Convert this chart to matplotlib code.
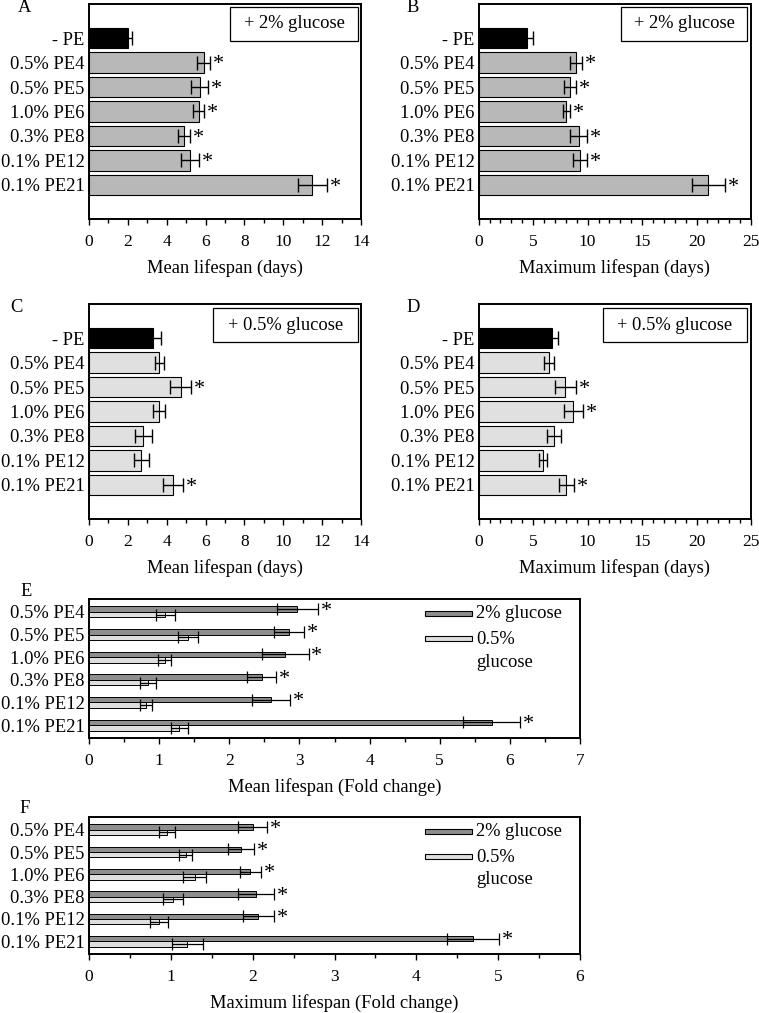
import numpy as np
import matplotlib.pyplot as plt
from matplotlib.patches import Rectangle
from matplotlib.ticker import MultipleLocator

plt.rcParams["font.family"] = ["Liberation Serif", "DejaVu Serif"]

labels = ["- PE", "0.5% PE4", "0.5% PE5", "1.0% PE6", "0.3% PE8", "0.1% PE12", "0.1% PE21"]
fold_labels = labels[1:]

# A: mean lifespan (days), 2% glucose
mean_hi = [2.0, 5.9, 5.7, 5.64, 4.9, 5.2, 11.5]
mean_hi_err = [0.22, 0.34, 0.45, 0.29, 0.30, 0.45, 0.76]
mean_hi_sig = [0, 1, 1, 1, 1, 1, 1]

# B: maximum lifespan (days), 2% glucose
max_hi = [4.46, 8.96, 8.38, 8.04, 9.17, 9.27, 21.07]
max_hi_err = [0.52, 0.55, 0.57, 0.32, 0.75, 0.64, 1.53]
max_hi_sig = [0, 1, 1, 1, 1, 1, 1]

# C: mean lifespan (days), 0.5% glucose
mean_lo = [3.30, 3.61, 4.71, 3.61, 2.80, 2.70, 4.31]
mean_lo_err = [0.39, 0.23, 0.56, 0.30, 0.45, 0.39, 0.52]
mean_lo_sig = [0, 0, 1, 0, 0, 0, 1]

# D: maximum lifespan (days), 0.5% glucose
max_lo = [6.73, 6.48, 7.95, 8.69, 6.94, 5.87, 8.04]
max_lo_err = [0.58, 0.44, 0.95, 0.87, 0.66, 0.37, 0.70]
max_lo_sig = [0, 0, 1, 1, 0, 0, 1]

# E: mean lifespan fold change
fold_mean_hi = [2.97, 2.85, 2.80, 2.46, 2.60, 5.74]
fold_mean_hi_err = [0.29, 0.21, 0.33, 0.21, 0.27, 0.41]
fold_mean_lo = [1.09, 1.41, 1.08, 0.84, 0.81, 1.29]
fold_mean_lo_err = [0.13, 0.14, 0.09, 0.11, 0.09, 0.12]

# F: maximum lifespan fold change
fold_max_hi = [2.00, 1.86, 1.97, 2.04, 2.07, 4.69]
fold_max_hi_err = [0.18, 0.16, 0.13, 0.22, 0.19, 0.32]
fold_max_lo = [0.95, 1.18, 1.29, 1.03, 0.86, 1.20]
fold_max_lo_err = [0.10, 0.08, 0.14, 0.12, 0.11, 0.19]

W, H = 759, 1013
fig = plt.figure(figsize=(W / 100, H / 100), dpi=100)


def add_axes(x0, y0, x1, y1):
    return fig.add_axes([x0 / W, 1 - y1 / H, (x1 - x0) / W, (y1 - y0) / H])


def style_axes(ax, xmax, major, minor, xlabel):
    ax.set_xlim(0, xmax)
    ax.xaxis.set_major_locator(MultipleLocator(major))
    ax.xaxis.set_minor_locator(MultipleLocator(minor))
    ax.tick_params(axis="x", which="major", length=4.5, width=1, labelsize=12.5, pad=6.5)
    ax.tick_params(axis="x", which="minor", length=3, width=1)
    ax.tick_params(axis="y", length=0, labelsize=13.3, pad=3)
    for sp in ax.spines.values():
        sp.set_linewidth(1.4)
    ax.set_xlabel(xlabel, fontsize=13.3, labelpad=6)


def lifespan_panel(ax, vals, errs, sig, color, xmax, major, box, xlabel):
    y = np.arange(len(vals))
    colors = ["black"] + [color] * (len(vals) - 1)
    ax.barh(y, vals, height=0.82, color=colors, edgecolor="black", linewidth=0.8)
    ax.errorbar(vals, y, xerr=errs, fmt="none", ecolor="black", elinewidth=1, capsize=5, capthick=1)
    for yi, v, e, s in zip(y, vals, errs, sig):
        if s:
            ax.annotate("*", (v + e, yi), xytext=(2, -1.5), textcoords="offset points",
                        ha="left", va="center", fontsize=16)
    ax.set_yticks(y)
    ax.set_yticklabels(labels)
    ax.set_ylim(6 + 1.39, -1.39)
    style_axes(ax, xmax, major, 1, xlabel)
    # glucose box
    bx0, bx1, by0, by1, txt = box
    ax.add_patch(Rectangle((bx0, by0), bx1 - bx0, by1 - by0, transform=ax.transAxes,
                           facecolor="white", edgecolor="black", linewidth=0.9))
    ax.text((bx0 + bx1) / 2, (by0 + by1) / 2, txt, transform=ax.transAxes,
            ha="center", va="center", fontsize=13.3)


def fold_panel(ax, hi, hi_err, lo, lo_err, xmax, xlabel, h_px):
    y = np.arange(len(hi))
    ax.barh(y - 0.12, hi, height=0.24, color="#8e8e8e", edgecolor="black", linewidth=0.7)
    ax.barh(y + 0.12, lo, height=0.24, color="#dedede", edgecolor="black", linewidth=0.7)
    ax.errorbar(hi, y - 0.12, xerr=hi_err, fmt="none", ecolor="black", elinewidth=0.9, capsize=4.5, capthick=0.9)
    ax.errorbar(lo, y + 0.12, xerr=lo_err, fmt="none", ecolor="black", elinewidth=0.9, capsize=4, capthick=0.9)
    for yi, v, e in zip(y, hi, hi_err):
        ax.annotate("*", (v + e, yi - 0.12), xytext=(2, -1.5), textcoords="offset points",
                    ha="left", va="center", fontsize=16)
    ax.set_yticks(y)
    ax.set_yticklabels(fold_labels)
    ax.set_ylim(5.57, -0.57)
    style_axes(ax, xmax, 1, 0.5, xlabel)
    # legend drawn by hand, offsets in pixels from the top of the axes
    def fy(d):
        return 1 - d / h_px
    lx0, lx1, tx = 336 / 491, 383 / 491, 387 / 491
    ax.add_patch(Rectangle((lx0, fy(17)), lx1 - lx0, fy(12) - fy(17), transform=ax.transAxes,
                           facecolor="#8e8e8e", edgecolor="black", linewidth=0.8))
    ax.add_patch(Rectangle((lx0, fy(42)), lx1 - lx0, fy(37) - fy(42), transform=ax.transAxes,
                           facecolor="#dedede", edgecolor="black", linewidth=0.8))
    ax.text(tx, fy(14.5), "2% glucose", transform=ax.transAxes, ha="left", va="center", fontsize=13.3)
    ax.text(tx, fy(40), "0.5%", transform=ax.transAxes, ha="left", va="center", fontsize=13.3)
    ax.text(tx, fy(63), "glucose", transform=ax.transAxes, ha="left", va="center", fontsize=13.3)


axA = add_axes(89, 4, 361, 219)
lifespan_panel(axA, mean_hi, mean_hi_err, mean_hi_sig, "#b8b8b8", 14, 2,
               (0.518, 0.989, 0.828, 0.986, "+ 2% glucose"), "Mean lifespan (days)")

axB = add_axes(478.7, 4, 751, 219)
lifespan_panel(axB, max_hi, max_hi_err, max_hi_sig, "#b8b8b8", 25, 5,
               (0.523, 0.985, 0.828, 0.986, "+ 2% glucose"), "Maximum lifespan (days)")

axC = add_axes(89, 304, 361, 519)
lifespan_panel(axC, mean_lo, mean_lo_err, mean_lo_sig, "#e0e0e0", 14, 2,
               (0.456, 0.989, 0.823, 0.981, "+ 0.5% glucose"), "Mean lifespan (days)")

axD = add_axes(478.7, 304, 751, 519)
lifespan_panel(axD, max_lo, max_lo_err, max_lo_sig, "#e0e0e0", 25, 5,
               (0.456, 0.985, 0.823, 0.981, "+ 0.5% glucose"), "Maximum lifespan (days)")

axE = add_axes(89, 599, 580, 738)
fold_panel(axE, fold_mean_hi, fold_mean_hi_err, fold_mean_lo, fold_mean_lo_err, 7,
           "Mean lifespan (Fold change)", 139)

axF = add_axes(89, 817, 580, 954)
fold_panel(axF, fold_max_hi, fold_max_hi_err, fold_max_lo, fold_max_lo_err, 6,
           "Maximum lifespan (Fold change)", 137)

# panel letters
for letter, px, py in [("A", 25, 8), ("B", 413, 8), ("C", 16, 307), ("D", 413, 307), ("E", 26, 592), ("F", 25, 808)]:
    fig.text(px / W, 1 - py / H, letter, ha="center", va="center", fontsize=13.3)

fig.savefig("out.png", dpi=100)
